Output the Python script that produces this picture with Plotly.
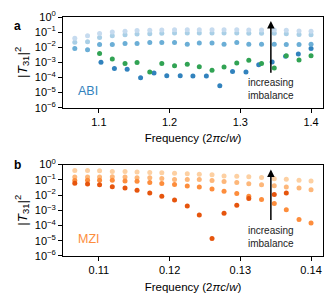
import plotly.graph_objects as go

# ---------------- data (log10 of |T31|^2) ----------------
freq_abi = [1.066, 1.084, 1.101, 1.119, 1.137, 1.154, 1.172, 1.189, 1.207, 1.225,
            1.242, 1.260, 1.277, 1.295, 1.312, 1.330, 1.348, 1.365, 1.383, 1.400]
freq_abi_dark = [1.103, 1.122, 1.140, 1.159, 1.178, 1.196, 1.215, 1.233, 1.252,
                 1.271, 1.289, 1.308, 1.326, 1.345, 1.364, 1.382, 1.400]

abi_lightest = [-1.41, -1.24, -1.09, -1.00, -0.94, -0.90, -0.88, -0.86, -0.84, -0.84,
                -0.84, -0.84, -0.84, -0.84, -0.86, -0.86, -0.86, -0.88, -0.92, -0.94]
abi_light = [-1.67, -1.63, -1.35, -1.24, -1.17, -1.13, -1.10, -1.08, -1.06, -1.06,
             -1.06, -1.06, -1.06, -1.06, -1.08, -1.08, -1.08, -1.10, -1.15, -1.17]
abi_medium = [-2.08, -2.17, -1.82, -1.82, -1.76, -1.76, -1.69, -1.69, -1.69, -1.80,
              -1.72, -1.72, -1.80, -1.69, -1.80, -1.80, -1.80, -1.82, -1.82, -1.80]
abi_green = [None, None, -2.42, -2.78, -3.08, -3.01, -3.64, -3.07, -3.22, -3.13,
             -3.29, -3.52, -3.31, -3.05, -2.86, -3.08, -3.38, -2.57, -2.84, -2.57]
abi_dark = [-3.00, -3.41, -3.45, -4.01, -3.71, -3.88, -3.88, -3.91, -3.90, -4.55,
            -3.60, -3.64, -3.15, -2.98, -2.60, -2.44, -2.08]

freq_mzi = [0.1066, 0.1084, 0.1101, 0.1119, 0.1137, 0.1154, 0.1172, 0.1189, 0.1207, 0.1225,
            0.1242, 0.1260, 0.1277, 0.1295, 0.1312, 0.1330, 0.1348, 0.1365, 0.1383, 0.1400]
mzi_lightest = [-0.38, -0.38, -0.41, -0.45, -0.45, -0.49, -0.51, -0.54, -0.56, -0.60,
                -0.64, -0.66, -0.74, -0.76, -0.80, -0.85, -0.93, -0.96, -1.03, -1.08]
mzi_light = [-0.82, -0.82, -0.82, -0.80, -0.82, -0.86, -0.86, -0.92, -0.98, -0.98,
             -0.98, -1.05, -1.11, -1.18, -1.26, -1.32, -1.39, -1.47, -1.54, -1.65]
mzi_medium = [-1.05, -1.02, -1.02, -1.02, -1.07, -1.10, -1.17, -1.24, -1.30, -1.40,
              -1.47, -1.60, -1.75, -1.90, -2.07, -2.29, -2.56, -2.97, -3.61, -3.84]
mzi_dark = [-1.22, -1.27, -1.33, -1.45, -1.54, -1.69, -1.86, -2.07, -2.32, -2.71,
            -3.31, -4.85, -3.20, -2.67, -2.22, None, -1.97, -1.86, None, None]

ytick_exp = [0, -1, -2, -3, -4, -5, -6]
abi_xticks = [1.1, 1.2, 1.3, 1.4]
abi_xticklabels = ["1.1", "1.2", "1.3", "1.4"]
mzi_xticks = [0.11, 0.12, 0.13, 0.14]
mzi_xticklabels = ["0.11", "0.12", "0.13", "0.14"]

FONT = "Liberation Sans, Arial, sans-serif"


def lin(v):
    return [None if e is None else 10 ** e for e in v]


fig = go.Figure()

# panel a (lighter drawn last)
for xs, ys, col in [
    (freq_abi_dark, abi_dark, "#3182bd"),
    (freq_abi, abi_green, "#31a354"),
    (freq_abi, abi_medium, "#6baed6"),
    (freq_abi, abi_light, "#a9cfe6"),
    (freq_abi, abi_lightest, "#c6dbef"),
]:
    fig.add_trace(go.Scatter(x=xs, y=lin(ys), mode="markers",
                             marker=dict(size=5, color=col, line=dict(width=0)),
                             xaxis="x", yaxis="y", showlegend=False, hoverinfo="skip"))

# panel b (darker drawn last)
for ys, col in [
    (mzi_lightest, "#fdd0a2"),
    (mzi_light, "#fdb77a"),
    (mzi_medium, "#fd8d3c"),
    (mzi_dark, "#e6550d"),
]:
    fig.add_trace(go.Scatter(x=freq_mzi, y=lin(ys), mode="markers",
                             marker=dict(size=5, color=col, line=dict(width=0)),
                             xaxis="x2", yaxis="y2", showlegend=False, hoverinfo="skip"))

ytext = ["10<sup>0</sup>" if e == 0 else "10<sup>\u2212%d</sup>" % (-e) for e in ytick_exp]
yvals = [10 ** e for e in ytick_exp]

axis_common = dict(showline=True, mirror=True, linecolor="black", linewidth=1,
                   ticks="outside", ticklen=4, tickwidth=1, tickcolor="black",
                   showgrid=False, zeroline=False,
                   tickfont=dict(family=FONT, size=11, color="black"))

ytitle = dict(text="|<i>T</i><sub>31</sub>|<sup>2</sup>",
              font=dict(family=FONT, size=13.5, color="black"), standoff=4)
xtitle = dict(text="Frequency (2<i>\u03c0c</i>/<i>w</i>)",
              font=dict(family=FONT, size=11.5, color="black"), standoff=7)

fig.update_layout(
    width=333, height=300,
    margin=dict(l=63, r=9, t=11, b=44),
    paper_bgcolor="white", plot_bgcolor="white",
    font=dict(family=FONT, size=10, color="black"),
    xaxis=dict(domain=[0, 1], range=[1.0493, 1.4169], tickvals=abi_xticks,
               ticktext=abi_xticklabels, anchor="y", title=xtitle, **axis_common),
    yaxis=dict(domain=[0.6204, 1.0], type="log", range=[-6, 0], tickvals=yvals,
               ticktext=ytext, anchor="x", title=ytitle, **axis_common),
    xaxis2=dict(domain=[0, 1], range=[0.10493, 0.14169], tickvals=mzi_xticks,
                ticktext=mzi_xticklabels, anchor="y2", title=xtitle, **axis_common),
    yaxis2=dict(domain=[0, 0.3824], type="log", range=[-6, 0], tickvals=yvals,
                ticktext=ytext, anchor="x2", title=ytitle, **axis_common),
)

W = 333 - 63 - 9
H = 300 - 11 - 44

ann = []
ann.append(dict(x=1.3432, y=-0.26, ax=1.3432, ay=-3.79, xref="x", yref="y", axref="x", ayref="y",
                showarrow=True, arrowhead=2, arrowsize=1, arrowwidth=1.5, arrowcolor="black", text=""))
ann.append(dict(x=0.13432, y=-0.32, ax=0.13432, ay=-3.74, xref="x2", yref="y2", axref="x2", ayref="y2",
                showarrow=True, arrowhead=2, arrowsize=1, arrowwidth=1.5, arrowcolor="black", text=""))
ann.append(dict(x=1.3432, y=-4.76, xref="x", yref="y", text="increasing<br>imbalance",
                showarrow=False, font=dict(family=FONT, size=10, color="#222")))
ann.append(dict(x=0.13432, y=-4.72, xref="x2", yref="y2", text="increasing<br>imbalance",
                showarrow=False, font=dict(family=FONT, size=10, color="#222")))
ann.append(dict(x=1.068, y=-4.89, xref="x", yref="y", text="ABI", xanchor="left",
                showarrow=False, font=dict(family=FONT, size=12.5, color="#3182bd")))
ann.append(dict(x=0.1068, y=-4.91, xref="x2", yref="y2", text="MZI", xanchor="left",
                showarrow=False, font=dict(family=FONT, size=12.5, color="#fd8d3c")))
ann.append(dict(x=(11.5 - 63) / W, y=(256 - 11.5) / H, xref="paper", yref="paper",
                text="<b>a</b>", showarrow=False, font=dict(family=FONT, size=12, color="black")))
ann.append(dict(x=(11.5 - 63) / W, y=(256 - 163) / H, xref="paper", yref="paper",
                text="<b>b</b>", showarrow=False, font=dict(family=FONT, size=12, color="black")))
fig.update_layout(annotations=ann)

fig.write_html("out.html", config={"displayModeBar": False},
               post_script="document.body.style.margin='0';document.body.style.padding='0';")
